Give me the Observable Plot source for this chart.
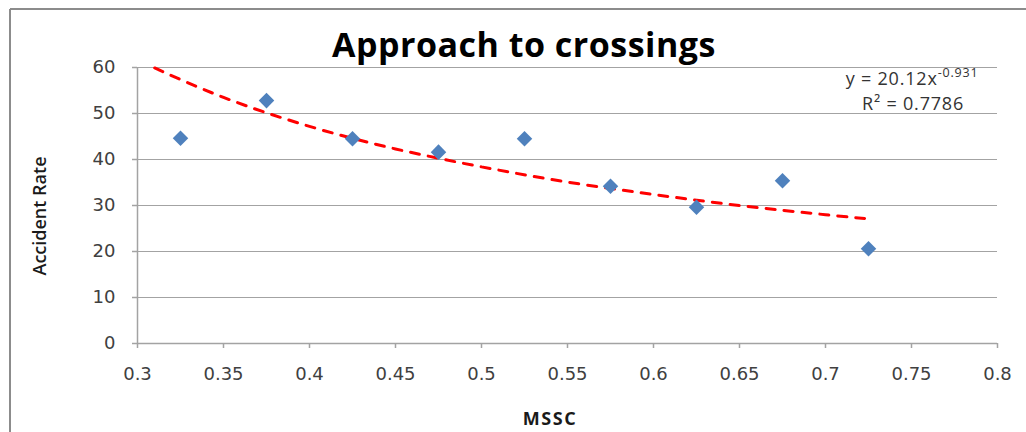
<!DOCTYPE html>
<html>
<head>
<meta charset="utf-8">
<script src="https://cdn.jsdelivr.net/npm/d3@7"></script>
<script src="https://cdn.jsdelivr.net/npm/@observablehq/plot@0.6"></script>
<style>
  html, body { margin: 0; padding: 0; background: #fff; }
  #chart { width: 1026px; height: 432px; }
</style>
</head>
<body>
<div id="chart"></div>
<script>
// ---- data ----
const mssc = [0.325, 0.375, 0.425, 0.475, 0.525, 0.575, 0.625, 0.675, 0.725];
const accidentRate = [44.6, 52.8, 44.5, 41.6, 44.5, 34.2, 29.6, 35.4, 20.6];

// power trendline y = 20.12 x^-0.931, sampled as drawn in the reference
const trendX = [0.31, 0.35, 0.40, 0.45, 0.50, 0.55, 0.60, 0.65, 0.70, 0.725];
const trendY = [59.9, 53.5, 47.2, 42.3, 38.4, 35.1, 32.4, 30.0, 28.0, 27.1];

const xTicks = [0.3, 0.35, 0.4, 0.45, 0.5, 0.55, 0.6, 0.65, 0.7, 0.75, 0.8];
const yTicks = [0, 10, 20, 30, 40, 50, 60];

const titleText = "Approach to crossings";
const xLabel = "MSSC";
const yLabel = "Accident Rate";
const eqMain = "y = 20.12x";
const eqExp = "-0.931";
const r2Text = "R² = 0.7786";

const points = mssc.map((x, i) => ({x, y: accidentRate[i]}));
const trend = trendX.map((x, i) => ({x, y: trendY[i]}));

const tickFont = "DejaVu Sans, Verdana, sans-serif";
const gridColor = "#a3a3a3";

const plot = Plot.plot({
  width: 1026,
  height: 432,
  marginLeft: 137,
  marginRight: 29,
  marginTop: 67,
  marginBottom: 89,
  style: {background: "#fff", fontFamily: tickFont, fontSize: "18px", color: "#404040"},
  x: {domain: [0.3, 0.8]},
  y: {domain: [0, 60]},
  marks: [
    Plot.gridY(yTicks.filter(d => d > 0), {stroke: gridColor, strokeOpacity: 1, strokeWidth: 1.2}),
    Plot.ruleX([0.3], {stroke: gridColor, strokeWidth: 1.5}),
    Plot.ruleY([0], {stroke: gridColor, strokeWidth: 1.5}),
    Plot.axisX({ticks: xTicks, tickSize: 5, tickPadding: 19, stroke: gridColor, strokeWidth: 1.5,
      tickFormat: d => String(+d.toFixed(2)), label: null, fill: "#404040",
      fontSize: 18, fontFamily: tickFont}),
    Plot.axisY({ticks: yTicks, tickSize: 5, tickPadding: 17, stroke: gridColor, strokeWidth: 1.5,
      tickFormat: d => String(d), label: null, fill: "#404040",
      fontSize: 18, fontFamily: tickFont}),
    Plot.line(trend, {x: "x", y: "y", curve: "natural", stroke: "#ff0000",
      strokeWidth: 3, strokeDasharray: "9,9", strokeLinecap: "round"}),
    Plot.dot(points, {x: "x", y: "y", symbol: "diamond2", r: 7, fill: "#4f81bd", stroke: "none"})
  ]
});

document.getElementById("chart").appendChild(plot);

const svg = d3.select(plot);
// outer chart border (top and left visible)
svg.append("line").attr("x1", 10).attr("y1", 9).attr("x2", 1026).attr("y2", 9)
  .attr("stroke", "#8c8c8c").attr("stroke-width", 2);
svg.append("line").attr("x1", 10).attr("y1", 9).attr("x2", 10).attr("y2", 432)
  .attr("stroke", "#8c8c8c").attr("stroke-width", 2);

// title
svg.append("text").attr("x", 524).attr("y", 57).attr("text-anchor", "middle")
  .attr("font-family", "Open Sans, sans-serif").attr("font-weight", "bold")
  .attr("font-size", 34).attr("letter-spacing", 0.5).attr("fill", "#000").text(titleText);

// axis titles
svg.append("text").attr("x", 550).attr("y", 425).attr("text-anchor", "middle")
  .attr("font-family", "Open Sans, sans-serif").attr("font-weight", "bold")
  .attr("font-size", 18).attr("letter-spacing", 1.5).attr("fill", "#1a1a1a").text(xLabel);
svg.append("text").attr("transform", "translate(46,216) rotate(-90)").attr("text-anchor", "middle")
  .attr("font-family", "Open Sans, sans-serif").attr("font-weight", 600)
  .attr("font-size", 18).attr("fill", "#1a1a1a").text(yLabel);

// trendline equation
const eq = svg.append("text").attr("x", 912).attr("y", 85).attr("text-anchor", "middle")
  .attr("font-family", "Open Sans, sans-serif").attr("font-size", 18).attr("letter-spacing", 0.8).attr("fill", "#333");
eq.append("tspan").text(eqMain);
eq.append("tspan").attr("dy", -8).attr("font-size", 12.5).text(eqExp);
svg.append("text").attr("x", 913).attr("y", 110).attr("text-anchor", "middle")
  .attr("font-family", "Open Sans, sans-serif").attr("font-size", 18).attr("letter-spacing", 0.8).attr("fill", "#333").text(r2Text);
</script>
</body>
</html>
